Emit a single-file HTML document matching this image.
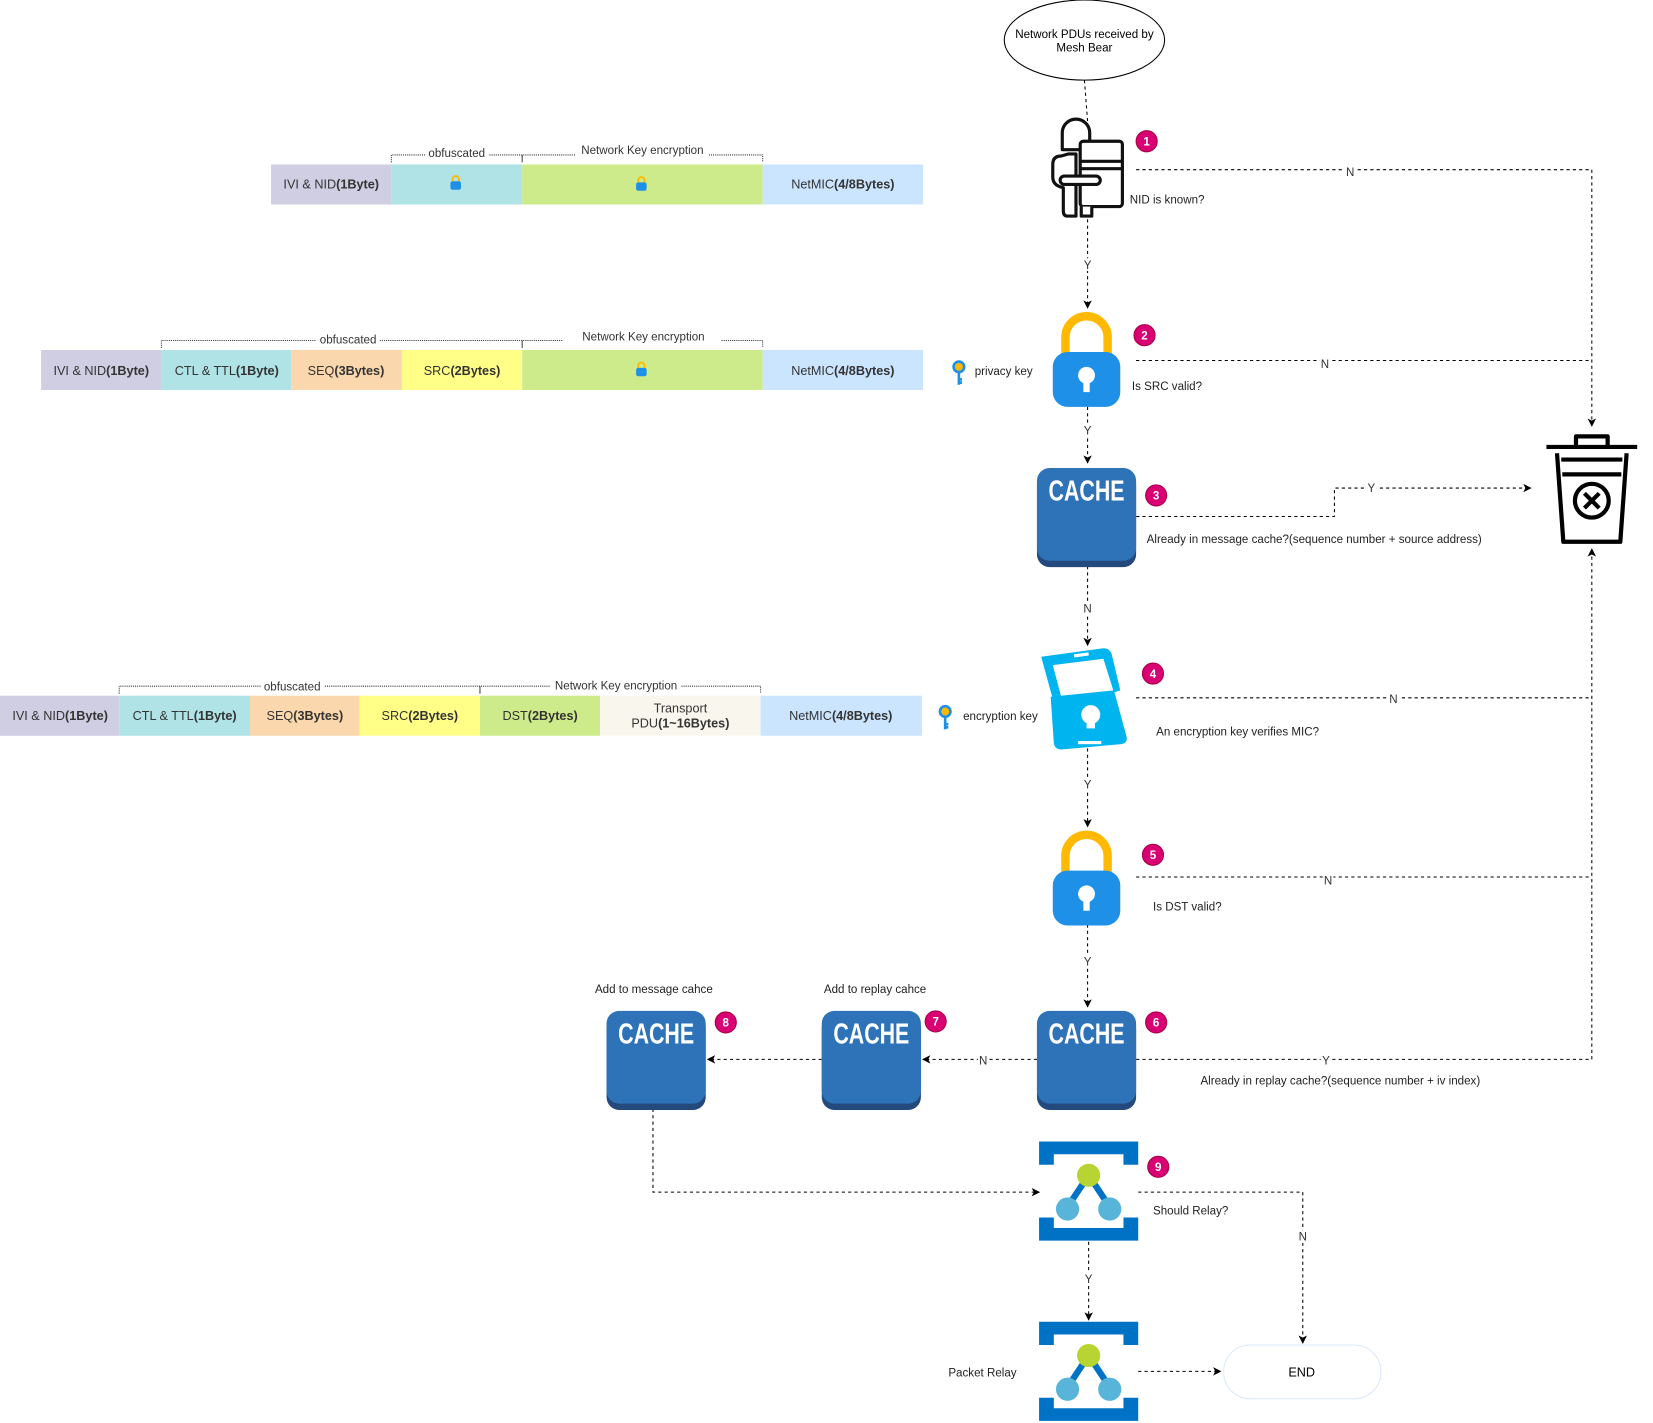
<!DOCTYPE html>
<html><head><meta charset="utf-8"><style>html,body{margin:0;padding:0;background:#fff}svg{display:block}text{font-family:"Liberation Sans",sans-serif}</style></head><body>
<svg width="1653" height="1423" viewBox="0 0 1567 1350" preserveAspectRatio="none" xmlns="http://www.w3.org/2000/svg">
<defs>
<marker id="a" markerWidth="8" markerHeight="8" refX="7" refY="4" orient="auto" markerUnits="userSpaceOnUse"><path d="M0,0 L8,4 L0,8 L2,4z" fill="#000"/></marker>
<g id="cache"><rect x="0" y="4" width="94" height="90" rx="12" fill="#23497d"/><rect x="0" y="0" width="94" height="88" rx="12" fill="#2e73b8"/><text x="47" y="31" font-size="27" font-weight="bold" fill="#fff" text-anchor="middle" textLength="72" lengthAdjust="spacingAndGlyphs">CACHE</text></g>
<g id="lock"><path d="M12,40 V22 A20,20 0 0 1 52,22 V40" fill="none" stroke="#ffb900" stroke-width="8"/><rect x="0" y="36" width="64" height="52" rx="14" fill="#1e90e8"/><circle cx="32" cy="58" r="8" fill="#fff"/><rect x="29" y="60" width="6" height="14" fill="#fff"/></g>
<g id="relay"><path d="M0,0 H94 V22 H80 V12 H14 V22 H0Z" fill="#0072c6"/><path d="M0,94 H94 V72 H80 V82 H14 V72 H0Z" fill="#0072c6"/><path d="M47,32 L27,62 M47,32 L67,62" stroke="#0072c6" stroke-width="6"/><circle cx="47" cy="32" r="11" fill="#b8d432"/><circle cx="27" cy="64" r="11" fill="#59b4d9"/><circle cx="67" cy="64" r="11" fill="#59b4d9"/></g>
<g id="key"><circle cx="0" cy="0" r="5" fill="#ffb900" stroke="#1e90e8" stroke-width="2.5"/><path d="M0,5 V17 M0,12 h3 M0,15 h3" stroke="#1e90e8" stroke-width="2.5"/></g>
<g id="pad"><path d="M-3,0 V-3 A3,3 0 0 1 3,-3 V0" fill="none" stroke="#ffb900" stroke-width="1.8"/><rect x="-5" y="-1" width="10" height="8" rx="2" fill="#1e90e8"/></g>
</defs>
<g font-size="12" text-anchor="middle" fill="#333">
<rect x="257" y="156" width="114" height="38" fill="#d0cee2"/><rect x="371" y="156" width="124" height="38" fill="#b0e3e6"/><rect x="495" y="156" width="228" height="38" fill="#cdeb8b"/><rect x="723" y="156" width="152" height="38" fill="#cce5ff"/>
<text x="314" y="179">IVI &amp; NID<tspan font-weight="bold">(1Byte)</tspan></text><text x="799" y="179">NetMIC<tspan font-weight="bold">(4/8Bytes)</tspan></text>
<use href="#pad" x="432" y="173"/><use href="#pad" x="608" y="174"/>
<rect x="39" y="332" width="114" height="38" fill="#d0cee2"/><rect x="153" y="332" width="123" height="38" fill="#b0e3e6"/><rect x="276" y="332" width="105" height="38" fill="#fad7ac"/><rect x="381" y="332" width="114" height="38" fill="#ffff88"/><rect x="495" y="332" width="228" height="38" fill="#cdeb8b"/><rect x="723" y="332" width="152" height="38" fill="#cce5ff"/>
<text x="96" y="356">IVI &amp; NID<tspan font-weight="bold">(1Byte)</tspan></text><text x="215" y="356">CTL &amp; TTL<tspan font-weight="bold">(1Byte)</tspan></text><text x="328" y="356">SEQ<tspan font-weight="bold">(3Bytes)</tspan></text><text x="438" y="356">SRC<tspan font-weight="bold">(2Bytes)</tspan></text><text x="799" y="356">NetMIC<tspan font-weight="bold">(4/8Bytes)</tspan></text>
<use href="#pad" x="608" y="350"/>
<rect x="0" y="660" width="113" height="38" fill="#d0cee2"/><rect x="113" y="660" width="124" height="38" fill="#b0e3e6"/><rect x="237" y="660" width="104" height="38" fill="#fad7ac"/><rect x="341" y="660" width="114" height="38" fill="#ffff88"/><rect x="455" y="660" width="114" height="38" fill="#cdeb8b"/><rect x="569" y="660" width="152" height="38" fill="#f9f7ed"/><rect x="721" y="660" width="153" height="38" fill="#cce5ff"/>
<text x="57" y="683">IVI &amp; NID<tspan font-weight="bold">(1Byte)</tspan></text><text x="175" y="683">CTL &amp; TTL<tspan font-weight="bold">(1Byte)</tspan></text><text x="289" y="683">SEQ<tspan font-weight="bold">(3Bytes)</tspan></text><text x="398" y="683">SRC<tspan font-weight="bold">(2Bytes)</tspan></text><text x="512" y="683">DST<tspan font-weight="bold">(2Bytes)</tspan></text><text x="645" y="676">Transport</text><text x="645" y="690">PDU<tspan font-weight="bold">(1~16Bytes)</tspan></text><text x="797" y="683">NetMIC<tspan font-weight="bold">(4/8Bytes)</tspan></text>
</g>
<g fill="none" stroke="#333" stroke-width="1" stroke-dasharray="1,1">
<path d="M371,154 V147 H495 V154"/><path d="M495,154 V147 H723 V154"/>
<path d="M153,330 V323 H495 V330"/><path d="M495,330 V323 H723 V330"/>
<path d="M113,658 V651 H455 V658"/><path d="M455,658 V651 H721 V658"/>
</g>
<g font-size="11" text-anchor="middle" fill="#333">
<rect x="403" y="139" width="60" height="13" fill="#fff"/><text x="433" y="149">obfuscated</text>
<rect x="546" y="136" width="126" height="13" fill="#fff"/><text x="609" y="146">Network Key encryption</text>
<rect x="300" y="316" width="60" height="13" fill="#fff"/><text x="330" y="326">obfuscated</text>
<rect x="534" y="313" width="150" height="14" fill="#fff"/><text x="610" y="323">Network Key encryption</text>
<rect x="247" y="644" width="60" height="13" fill="#fff"/><text x="277" y="655">obfuscated</text>
<rect x="522" y="644" width="124" height="13" fill="#fff"/><text x="584" y="654">Network Key encryption</text>
</g>
<g fill="none" stroke="#000" stroke-width="1" stroke-dasharray="3,3">
<path d="M1028,76 L1031,115"/>
<path d="M1031,208 V292" marker-end="url(#a)"/>
<path d="M1077,161 H1509 V404" marker-end="url(#a)"/>
<path d="M1077,342 H1509"/>
<path d="M1031,386 V439" marker-end="url(#a)"/>
<path d="M1077,490 H1265 V463 H1451" marker-end="url(#a)"/>
<path d="M1031,537 V612" marker-end="url(#a)"/>
<path d="M1077,662 H1509"/>
<path d="M1509,1005 V521" marker-end="url(#a)"/>
<path d="M1031,710 V784" marker-end="url(#a)"/>
<path d="M1077,832 H1509"/>
<path d="M1031,877 V955" marker-end="url(#a)"/>
<path d="M1077,1005 H1509"/>
<path d="M983,1005 H875" marker-end="url(#a)"/>
<path d="M779,1005 H671" marker-end="url(#a)"/>
<path d="M619,1052 V1131 H985" marker-end="url(#a)"/>
<path d="M1079,1131 H1235 V1274" marker-end="url(#a)"/>
<path d="M1032,1178 V1252" marker-end="url(#a)"/>
<path d="M1079,1301 H1157" marker-end="url(#a)"/>
</g>
<g font-size="11" text-anchor="middle" fill="#333">
<g fill="#fff"><rect x="1026" y="245" width="10" height="12"/><rect x="1275" y="157" width="10" height="12"/><rect x="1251" y="337" width="10" height="12"/><rect x="1026" y="402" width="10" height="12"/><rect x="1295" y="457" width="10" height="12"/><rect x="1026" y="571" width="10" height="12"/><rect x="1316" y="657" width="10" height="12"/><rect x="1026" y="738" width="10" height="12"/><rect x="1254" y="827" width="10" height="12"/><rect x="1026" y="906" width="10" height="12"/><rect x="1252" y="1000" width="10" height="12"/><rect x="927" y="1000" width="10" height="12"/><rect x="1230" y="1167" width="10" height="12"/><rect x="1027" y="1207" width="10" height="12"/></g>
<text x="1031" y="255">Y</text><text x="1280" y="167">N</text><text x="1256" y="349">N</text><text x="1031" y="412">Y</text><text x="1300" y="467">Y</text><text x="1031" y="581">N</text><text x="1321" y="667">N</text><text x="1031" y="748">Y</text><text x="1259" y="839">N</text><text x="1031" y="916">Y</text><text x="1257" y="1010">Y</text><text x="932" y="1010">N</text><text x="1235" y="1177">N</text><text x="1032" y="1217">Y</text>
</g>
<ellipse cx="1028" cy="38" rx="76" ry="38" fill="#fff" stroke="#000"/>
<text x="1028" y="36" font-size="11" text-anchor="middle">Network PDUs received by</text><text x="1028" y="49" font-size="11" text-anchor="middle">Mesh Bear</text>
<g fill="#fff" stroke="#111" stroke-width="3" stroke-linejoin="round">
<path d="M1007,142 V126 A13,13 0 0 1 1033,126 V142Z"/>
<path d="M1013,146 H1020 V205 H1012 Q1008,205 1008,200 V178 Q998,176 998,168 V156 Q998,148 1006,148Z"/>
<rect x="1024" y="134" width="40" height="62" rx="3"/>
<path d="M1024,153 H1064 M1024,160 H1064"/>
<rect x="1005" y="167" width="38" height="8" rx="4"/>
<path d="M1025,196 V205 H1035 V196"/>
</g>
<use href="#lock" x="998" y="298"/>
<use href="#cache" x="983" y="444"/>
<g transform="translate(984,615)" fill="#00b4f0">
<path d="M3,8 L62,0 Q68,0 70,6 L78,40 L72,42 L62,10 L14,16 L22,46 L14,48Z"/>
<rect x="34" y="5" width="14" height="3" fill="#fff" transform="rotate(-8 40 6)"/>
<path d="M20,46 L80,40 L92,84 Q93,90 87,91 L30,96 Q24,96 23,90Z" transform="translate(-8,0)"/>
<circle cx="50" cy="63" r="9" fill="#fff"/><rect x="46" y="64" width="8" height="12" fill="#fff"/>
<rect x="38" y="88" width="22" height="3" fill="#fff"/>
</g>
<use href="#lock" x="998" y="790"/>
<use href="#cache" x="983" y="959"/>
<use href="#cache" x="779" y="959"/>
<use href="#cache" x="575" y="959"/>
<use href="#relay" x="985" y="1083"/>
<use href="#relay" x="985" y="1254"/>
<rect x="1160" y="1276" width="149" height="51" rx="25" fill="#fff" stroke="#dae8fc"/>
<text x="1234" y="1306" font-size="12" text-anchor="middle">END</text>
<g fill="none" stroke="#000" stroke-width="4" stroke-linejoin="round">
<path d="M1466,424 H1552"/><path d="M1494,424 V414 H1524 V424"/>
<path d="M1476,430 L1482,514 H1536 L1542,430"/>
<path d="M1480,436 H1538 M1481,450 H1537"/>
<circle cx="1509" cy="475" r="16"/><path d="M1502,468 L1516,482 M1516,468 L1502,482"/>
</g>
<use href="#key" x="909" y="348"/><use href="#key" x="896" y="675"/>
<g font-size="11" font-weight="bold" fill="#fff" text-anchor="middle">
<g stroke="#a50040" stroke-width="1" fill="#d80073"><circle cx="1087" cy="134" r="10"/><circle cx="1085" cy="318" r="10"/><circle cx="1096" cy="470" r="10"/><circle cx="1093" cy="639" r="10"/><circle cx="1093" cy="811" r="10"/><circle cx="1096" cy="970" r="10"/><circle cx="887" cy="969" r="10"/><circle cx="688" cy="970" r="10"/><circle cx="1098" cy="1107" r="10"/></g>
<text x="1087" y="138">1</text><text x="1085" y="322">2</text><text x="1096" y="474">3</text><text x="1093" y="643">4</text><text x="1093" y="815">5</text><text x="1096" y="974">6</text><text x="887" y="973">7</text><text x="688" y="974">8</text><text x="1098" y="1111">9</text>
</g>
<g font-size="11" fill="#222">
<text x="1071" y="193">NID is known?</text>
<text x="1073" y="370">Is SRC valid?</text>
<text x="1087" y="515">Already in message cache?(sequence number + source address)</text>
<text x="1096" y="698">An encryption key verifies MIC?</text>
<text x="1093" y="864">Is DST valid?</text>
<text x="1138" y="1029">Already in replay cache?(sequence number + iv index)</text>
<text x="1093" y="1152">Should Relay?</text>
<text x="899" y="1306">Packet Relay</text>
<text x="564" y="942">Add to message cahce</text>
<text x="781" y="942">Add to replay cahce</text>
<text x="924" y="356">privacy key</text>
<text x="913" y="683">encryption key</text>
</g>
</svg>
</body></html>
